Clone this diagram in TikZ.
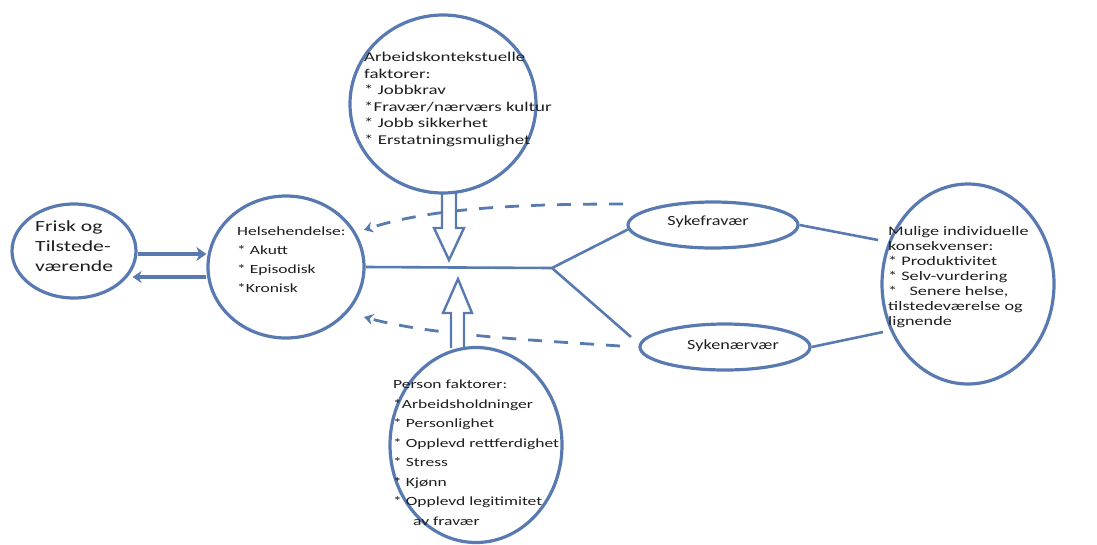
\documentclass[tikz,border=0pt]{standalone}
\usepackage{fontspec}
\setmainfont{Carlito}
\newfontfamily\widefont[FakeStretch=1.4]{Carlito}
\newfontfamily\midfont[FakeStretch=1.3]{Carlito}
\usetikzlibrary{shapes.geometric,arrows.meta}
\definecolor{ln}{RGB}{88,122,176}
\definecolor{txt}{RGB}{30,30,30}
\begin{document}
\begin{tikzpicture}[x=1pt,y=-1pt,
  oval/.style={draw=ln,line width=3.2pt,ellipse,inner sep=0pt},
  lbl/.style={anchor=north west,align=left,inner sep=0pt,text=txt},
  conn/.style={draw=ln,line width=2.6pt},
  dsh/.style={draw=ln,line width=2.8pt,dash pattern=on 14pt off 12pt,-{Stealth[length=9pt,width=11pt]}},
  blk/.style={draw=ln,line width=2.4pt,line join=miter}]
\useasboundingbox (0,0) rectangle (1097,544);

% ovals
\node[oval,minimum width=124pt,minimum height=94pt] (frisk) at (74,251) {};
\node[oval,minimum width=156pt,minimum height=142pt] (helse) at (286,267) {};
\node[oval,minimum width=186pt,minimum height=178pt] (arb) at (443,104) {};
\node[oval,minimum width=172pt,minimum height=195pt] (pers) at (476,445) {};
\node[oval,minimum width=170pt,minimum height=46pt] (syf) at (713,225) {};
\node[oval,minimum width=170pt,minimum height=46pt] (syn) at (725,347) {};
\node[oval,minimum width=172pt,minimum height=200pt] (mul) at (968,284) {};

% texts
\node[lbl,font=\widefont\fontsize{15.5pt}{20pt}\selectfont] (tfrisk) at (35,221) {Frisk og\\Tilstede-\\værende};
\node[lbl,font=\widefont\fontsize{12.5pt}{19pt}\selectfont] (thelse) at (237,227) {Helsehendelse:\\* Akutt\\* Episodisk\\*Kronisk};
\node[lbl,font=\widefont\fontsize{13.5pt}{16.5pt}\selectfont] (tarb) at (364,52) {Arbeidskontekstuelle\\faktorer:\\* Jobbkrav\\*Fravær/nærværs kultur\\* Jobb sikkerhet\\* Erstatningsmulighet};
\node[lbl,font=\widefont\fontsize{12.5pt}{19.5pt}\selectfont] (tpers) at (393,380) {Person faktorer:\\*Arbeidsholdninger\\* Personlighet\\* Opplevd rettferdighet\\* Stress\\* Kjønn\\* Opplevd legitimitet\\\hspace*{20pt}av fravær};
\node[lbl,font=\widefont\fontsize{13pt}{15pt}\selectfont] (tmul) at (888,226) {Mulige individuelle\\konsekvenser:\\* Produktivitet\\* Selv-vurdering\\*\ \ \ Senere helse,\\tilstedeværelse og\\lignende};
\node[inner sep=0pt,text=txt,font=\midfont\fontsize{14pt}{16pt}\selectfont] (tsyf) at (708,222) {Sykefravær};
\node[inner sep=0pt,text=txt,font=\midfont\fontsize{14pt}{16pt}\selectfont] (tsyn) at (733,346) {Sykenærvær};

% coordinates for free ends
\coordinate (br) at (552,268);
\coordinate (sB) at (631,337);
\coordinate (mA) at (878,240);
\coordinate (mB) at (883,332);
\coordinate (dA) at (623,204);
\coordinate (dB) at (620,346);
\coordinate (hA) at (364,230);
\coordinate (hB) at (364,317);

% solid connectors
\draw[conn] (helse.east) -- (br);
\draw[conn] (br) -- (syf.183);
\draw[conn] (br) -- (sB);
\draw[conn] (syf.east) -- (mA);
\draw[conn] (syn.east) -- (mB);

% frisk <-> helse
\draw[draw=ln,line width=4.8pt,-{Stealth[length=10pt,width=14pt,inset=3pt]}] ([yshift=-3pt]frisk.east) -- ([yshift=13pt]helse.west);
\draw[draw=ln,line width=3.2pt,-{Stealth[length=9pt,width=12pt,inset=3pt]}] ([yshift=-10pt]helse.west) -- ([xshift=-5pt,yshift=-26pt]frisk.east);

% dashed feedback arrows
\draw[dsh] (dA) .. controls (520,204) and (430,208) .. (hA);
\draw[dsh] (dB) .. controls (530,340) and (430,335) .. (hB);

% block arrows
\fill[white] (442,195) -- (442,228) -- (434,228) -- (449,260) -- (464,228) -- (456,228) -- (456,195) -- cycle;
\draw[blk] (442,192) -- (442,228) -- (434,228) -- (449,260) -- (464,228) -- (456,228) -- (456,192);
\fill[white] (451,345) -- (451,313) -- (443,313) -- (458,279) -- (472,313) -- (464,313) -- (464,345) -- cycle;
\draw[blk] (451,348) -- (451,313) -- (443,313) -- (458,279) -- (472,313) -- (464,313) -- (464,348);
\end{tikzpicture}
\end{document}
